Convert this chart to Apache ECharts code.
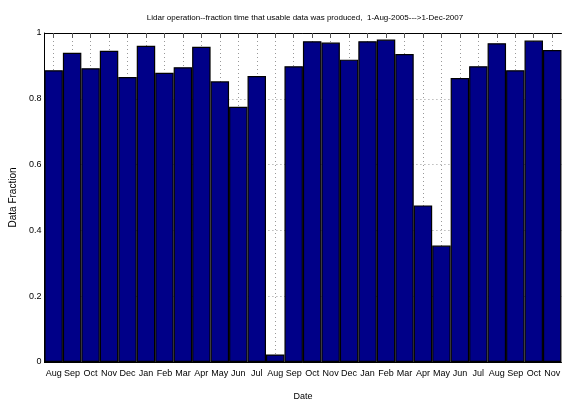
<!DOCTYPE html>
<html><head><meta charset="utf-8">
<script src="https://cdn.jsdelivr.net/npm/echarts@6/dist/echarts.min.js"></script>
<style>html,body{margin:0;padding:0;background:#fff}#c{width:563px;height:406px}</style>
</head><body><div id="c"></div>
<script>
const months = ['Aug','Sep','Oct','Nov','Dec','Jan','Feb','Mar','Apr','May','Jun','Jul','Aug','Sep','Oct','Nov','Dec','Jan','Feb','Mar','Apr','May','Jun','Jul','Aug','Sep','Oct','Nov'];
const fraction = [0.887,0.940,0.893,0.946,0.866,0.961,0.879,0.896,0.958,0.853,0.776,0.869,0.023,0.899,0.975,0.971,0.919,0.975,0.980,0.936,0.476,0.354,0.863,0.899,0.969,0.887,0.977,0.948];
const yTicks = [0,0.2,0.4,0.6,0.8,1];
const titleText = 'Lidar operation--fraction time that usable data was produced,  1-Aug-2005--->1-Dec-2007';
const F = '"Liberation Sans Narrow","Arial Narrow","Liberation Sans",sans-serif';
const chart = echarts.init(document.getElementById('c'));
chart.setOption({
  animation:false,
  title:{text:titleText,left:300,top:9,textAlign:'center',textStyle:{fontFamily:F,fontSize:8,fontWeight:'normal',color:'#000'}},
  grid:{left:37,top:33,width:529,height:336.5},
  xAxis:[{type:'category',data:months,name:'Date',nameLocation:'middle',nameGap:30,
    nameTextStyle:{fontFamily:F,fontSize:9,color:'#000'},
    axisLine:{lineStyle:{color:'#000',width:1}},
    axisTick:{show:false},
    axisLabel:{fontFamily:F,fontSize:9,color:'#000',margin:7,interval:0},
    splitLine:{show:true,alignWithLabel:true,interval:0,lineStyle:{color:'#999',type:[1,3],width:1}}},
   {type:'category',data:months,position:'top',
    axisLine:{lineStyle:{color:'#000',width:1}},
    axisTick:{show:true,inside:true,alignWithLabel:true,interval:0,length:5,lineStyle:{color:'#555'}},
    axisLabel:{show:false},splitLine:{show:false}}],
  yAxis:{type:'value',min:0,max:1,interval:0.2,name:'Data Fraction',nameLocation:'middle',nameGap:26,
    nameTextStyle:{fontFamily:'"Liberation Sans",sans-serif',fontSize:10,color:'#000'},
    axisLine:{show:true,lineStyle:{color:'#000'}},
    axisTick:{show:true,inside:true,length:4,lineStyle:{color:'#000'}},
    axisLabel:{fontFamily:F,fontSize:9,color:'#000',margin:3,formatter:v=>yTicks.indexOf(v)>=0?String(v):''},
    splitLine:{show:true,lineStyle:{color:'#999',type:[1,3],width:1}}},
  series:[{type:'bar',data:fraction,barCategoryGap:'0%',
    itemStyle:{color:'#000088',borderColor:'#000',borderWidth:1.2}}]
});
</script></body></html>
